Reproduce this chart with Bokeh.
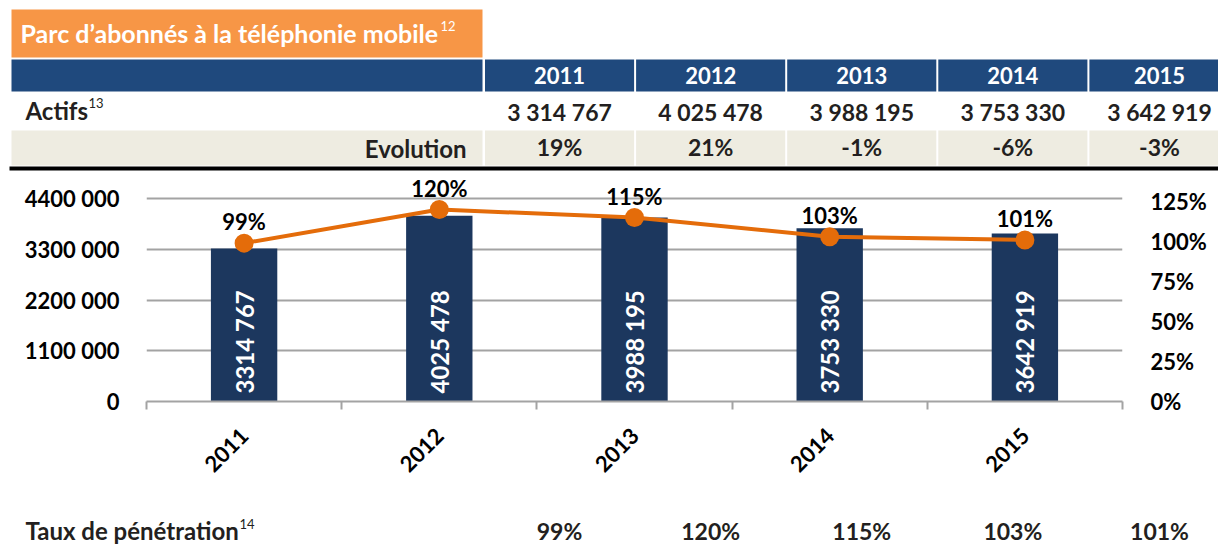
import math
from bokeh.plotting import figure
from bokeh.layouts import column
from bokeh.models import Range1d, FixedTicker, LinearAxis, LabelSet, ColumnDataSource
from bokeh.core.properties import value
from bokeh.embed import file_html
from bokeh.resources import INLINE

# ---------------- data ----------------
years = ["2011", "2012", "2013", "2014", "2015"]
actifs = [3314767, 4025478, 3988195, 3753330, 3642919]
evolution = ["19%", "21%", "-1%", "-6%", "-3%"]
penetration = [99, 120, 115, 103, 101]          # percent
left_ticks = [0, 1100000, 2200000, 3300000, 4400000]
right_ticks = [0, 25, 50, 75, 100, 125]          # percent

title = "Parc d\u2019abonnés à la téléphonie mobile"
row_actifs = "Actifs"
row_evol = "Evolution"
row_taux = "Taux de pénétration"

FONT = value("Lato")
DARK = "#231f20"
ORANGE_BOX = "#F79646"
BLUE_HEAD = "#1F497D"
BEIGE = "#EEECE1"
BAR = "#1c375e"
LINE = "#E46C0A"
GRID = "#a3a3a3"

W = 1218


def grp_table(v):
    return f"{v:,}".replace(",", " ")


def grp_chart(v):
    return f"{v // 1000} {v % 1000:03d}" if v >= 1000 else str(v)


def txt(fig, xs, ys, texts, size, color, align="left", style="bold"):
    src = ColumnDataSource(dict(x=list(xs), y=list(ys), t=list(texts)))
    fig.add_layout(LabelSet(x="x", y="y", text="t", source=src, text_font=FONT,
                            text_font_style=style, text_font_size=size, text_color=color,
                            text_align=align, text_baseline="alphabetic"))


def box(fig, l, r, t, b, color):
    fig.quad(left=l, right=r, top=t, bottom=b, fill_color=color, line_color=None)


def sheet(height, y0, y1):
    f = figure(width=W, height=height, x_range=Range1d(0, W), y_range=Range1d(y1, y0),
               x_axis_type=None, y_axis_type=None, output_backend="svg",
               toolbar_location=None, min_border=0, outline_line_color=None,
               frame_align=False)
    f.xgrid.visible = False
    f.ygrid.visible = False
    return f


# ---------------- top table (page-pixel layout) ----------------
col_left0 = 483.5
col_w = 151.1
n = len(years)
cl = [col_left0 + i * col_w + 1 for i in range(n)]
cr = [col_left0 + (i + 1) * col_w - 1 for i in range(n)]
cr[-1] = W + 2
cc = [(a + b) / 2 for a, b in zip(cl, cr)]
cc[-1] = 1159

t = sheet(172, 0, 172)

# title box
box(t, [11], [482], [9], [57], ORANGE_BOX)
txt(t, [20], [42], [title], "25px", "white")
txt(t, [440], [30], ["12"], "13px", "white", style="normal")

# header row
box(t, [11] + cl, [482] + cr, [59] * (n + 1), [91] * (n + 1), BLUE_HEAD)
txt(t, cc, [83] * n, years, "22px", "white", align="center")

# actifs row
txt(t, [25], [119], [row_actifs], "24px", DARK)
txt(t, [88], [107], ["13"], "13px", DARK, style="normal")
txt(t, cc, [120] * n, [grp_table(v) for v in actifs], "23px", DARK, align="center")

# evolution row
box(t, [11] + cl, [482] + cr, [130] * (n + 1), [165] * (n + 1), BEIGE)
txt(t, [466], [157], [row_evol], "24px", DARK, align="right")
txt(t, cc, [155] * n, evolution, "23px", DARK, align="center")

# black rule
box(t, [9], [W + 2], [166], [170], "black")

# ---------------- chart ----------------
xs = [i + 0.5 for i in range(n)]
pct = [v / 100 for v in penetration]

# frame spans page y 172..401; grid top (4 400 000) sits at page y 198
extend = 229 / 203
p = figure(width=W, height=328, x_range=Range1d(0, n),
           y_range=Range1d(0, left_ticks[-1] * extend),
           output_backend="svg", toolbar_location=None,
           min_border_left=146, min_border_right=96, min_border_top=0, min_border_bottom=99,
           outline_line_color=None, frame_align=False)
p.extra_y_ranges = {"pct": Range1d(0, 1.269 * extend)}

# left axis
la = p.yaxis[0]
la.ticker = FixedTicker(ticks=left_ticks)
la.major_label_overrides = {v: grp_chart(v) for v in left_ticks}
la.axis_line_color = None
la.major_tick_line_color = None
la.minor_tick_line_color = None
la.major_tick_out = 0
la.major_label_standoff = 27
la.major_label_text_font = "Lato"
la.major_label_text_font_style = "bold"
la.major_label_text_font_size = "22px"
la.major_label_text_color = "black"

p.ygrid.ticker = FixedTicker(ticks=left_ticks)
p.ygrid.grid_line_color = GRID
p.ygrid.grid_line_width = 2
p.xgrid.visible = False

# right axis
ra = LinearAxis(y_range_name="pct",
                ticker=FixedTicker(ticks=[v / 100 for v in right_ticks]))
ra.major_label_overrides = {v / 100: f"{v}%" for v in right_ticks}
ra.axis_line_color = None
ra.major_tick_line_color = None
ra.minor_tick_line_color = None
ra.major_tick_out = 0
ra.major_label_standoff = 28
ra.major_label_text_font = "Lato"
ra.major_label_text_font_style = "bold"
ra.major_label_text_font_size = "22px"
ra.major_label_text_color = "black"
p.add_layout(ra, "right")

# x axis
xa = p.xaxis[0]
xa.ticker = FixedTicker(ticks=xs, minor_ticks=list(range(n + 1)))
xa.major_label_overrides = {x: y for x, y in zip(xs, years)}
xa.major_label_orientation = math.pi / 4
xa.major_tick_line_color = None
xa.major_tick_out = 0
xa.minor_tick_in = 0
xa.minor_tick_out = 8
xa.minor_tick_line_color = GRID
xa.minor_tick_line_width = 2
xa.axis_line_color = GRID
xa.axis_line_width = 2
xa.major_label_standoff = 22
xa.major_label_text_font = "Lato"
xa.major_label_text_font_style = "bold"
xa.major_label_text_font_size = "22px"
xa.major_label_text_color = "black"

src = ColumnDataSource(dict(x=xs, actifs=actifs, pct=pct,
                            blab=[grp_chart(v) for v in actifs],
                            plab=[f"{v}%" for v in penetration],
                            zero=[0] * n))

p.vbar(x="x", width=0.34, top="actifs", source=src, fill_color=BAR, line_color=None)
p.add_layout(LabelSet(x="x", y="zero", text="blab", source=src, angle=math.pi / 2,
                      text_align="left", text_baseline="middle", y_offset=8,
                      text_font=FONT, text_font_style="bold", text_font_size="24px",
                      text_color="white"))

p.line(x="x", y="pct", source=src, y_range_name="pct", line_color=LINE, line_width=4)
p.scatter(x="x", y="pct", source=src, y_range_name="pct", size=19,
          fill_color=LINE, line_color=None)
p.add_layout(LabelSet(x="x", y="pct", text="plab", source=src, y_range_name="pct",
                      text_align="center", text_baseline="alphabetic", y_offset=13,
                      text_font=FONT, text_font_style="bold", text_font_size="22px",
                      text_color="black"))

# ---------------- bottom row ----------------
b = sheet(46, 500, 546)
txt(b, [25], [539], [row_taux], "24px", DARK)
txt(b, [239], [528], ["14"], "13px", DARK, style="normal")
txt(b, cc, [539] * n, [f"{v}%" for v in penetration], "23px", DARK, align="center")

layout = column(t, p, b, spacing=0)
open("out.html", "w").write(file_html(layout, INLINE))
